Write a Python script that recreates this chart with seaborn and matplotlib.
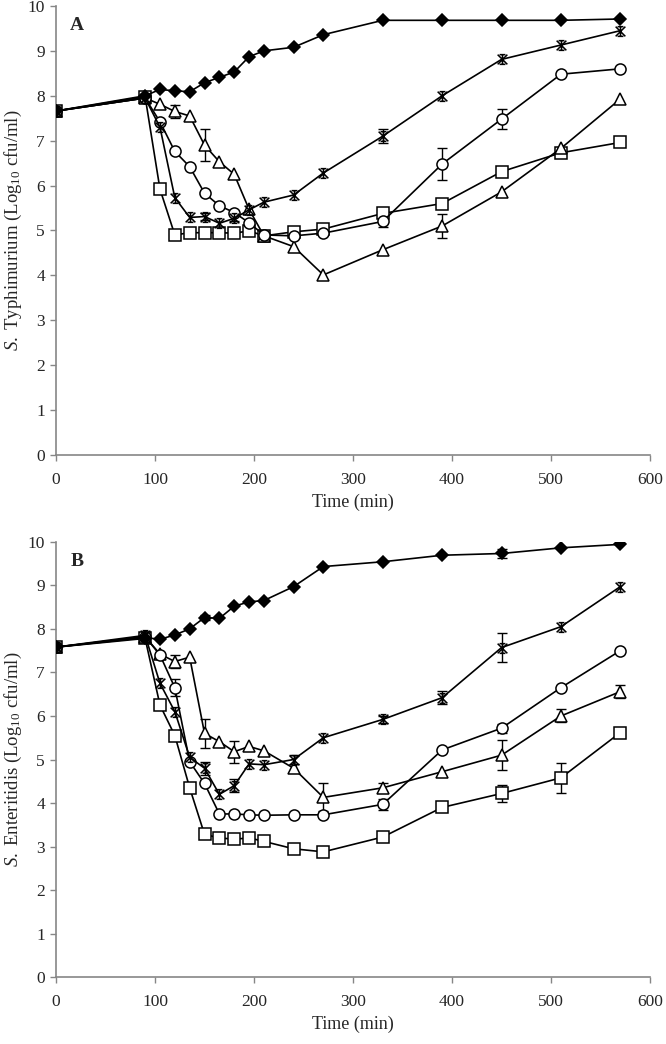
import numpy as np
import pandas as pd
import matplotlib
matplotlib.use("Agg")
import matplotlib.pyplot as plt
from matplotlib.path import Path
import seaborn as sns

# time points (min)
time = [0, 90, 105, 120, 135, 150, 165, 180, 195, 210, 240, 270, 330, 390, 450, 510, 570]

# panel A - S. Typhimurium
a_diamond = [7.66, 8.00, 8.14, 8.11, 8.09, 8.29, 8.41, 8.53, 8.87, 9.00, 9.08, 9.36, 9.68, 9.68, 9.68, 9.68, 9.71]
a_star = [7.66, 7.95, 7.30, 5.73, 5.29, 5.31, 5.16, 5.27, 5.46, 5.63, 5.79, 6.28, 7.10, 8.00, 8.81, 9.13, 9.45]
a_circle = [7.66, 7.95, 7.42, 6.76, 6.42, 5.83, 5.55, 5.40, 5.17, 4.90, 4.88, 4.94, 5.20, 6.48, 7.48, 8.48, 8.60]
a_triangle = [7.66, 7.95, 7.81, 7.65, 7.55, 6.90, 6.53, 6.25, 5.47, 4.88, 4.64, 4.01, 4.57, 5.10, 5.86, 6.83, 7.93]
a_square = [7.66, 7.98, 5.92, 4.90, 4.95, 4.95, 4.95, 4.94, 4.99, 4.88, 4.97, 5.03, 5.38, 5.60, 6.31, 6.73, 6.96]

a_diamond_err = [0, 0, 0, 0, 0, 0, 0, 0, 0, 0, 0, 0, 0, 0, 0, 0, 0]
a_star_err = [0, 0, 0, 0, 0, 0.07, 0, 0.07, 0, 0, 0, 0, 0.15, 0, 0, 0, 0]
a_circle_err = [0, 0, 0, 0, 0, 0, 0, 0, 0, 0, 0, 0, 0.12, 0.36, 0.22, 0, 0]
a_triangle_err = [0, 0, 0, 0.15, 0, 0.35, 0, 0, 0, 0, 0, 0, 0, 0.27, 0, 0, 0]
a_square_err = [0, 0, 0, 0, 0, 0, 0, 0, 0, 0, 0, 0, 0, 0, 0, 0, 0]

# panel B - S. Enteritidis
b_diamond = [7.58, 7.80, 7.76, 7.86, 8.00, 8.26, 8.24, 8.52, 8.62, 8.65, 8.97, 9.43, 9.54, 9.69, 9.73, 9.86, 9.94]
b_star = [7.58, 7.85, 6.75, 6.10, 5.05, 4.80, 4.20, 4.40, 4.90, 4.88, 5.00, 5.50, 5.92, 6.42, 7.57, 8.05, 8.97]
b_circle = [7.58, 7.82, 7.40, 6.65, 4.95, 4.45, 3.75, 3.75, 3.73, 3.72, 3.73, 3.73, 3.97, 5.22, 5.72, 6.65, 7.50]
b_triangle = [7.58, 7.82, 7.42, 7.25, 7.35, 5.60, 5.41, 5.18, 5.30, 5.20, 4.80, 4.13, 4.35, 4.72, 5.10, 6.00, 6.56]
b_square = [7.58, 7.78, 6.25, 5.55, 4.35, 3.28, 3.20, 3.17, 3.20, 3.12, 2.95, 2.88, 3.22, 3.90, 4.22, 4.58, 5.62]

b_diamond_err = [0, 0, 0, 0, 0, 0.05, 0, 0, 0, 0, 0, 0, 0, 0, 0.1, 0, 0]
b_star_err = [0, 0, 0, 0, 0, 0.15, 0, 0.15, 0, 0, 0.1, 0, 0.08, 0.15, 0.34, 0, 0]
b_circle_err = [0, 0, 0, 0.2, 0, 0, 0, 0, 0, 0, 0, 0, 0.12, 0, 0.1, 0, 0]
b_triangle_err = [0, 0, 0, 0.15, 0, 0.33, 0, 0.25, 0, 0, 0, 0.32, 0.1, 0, 0.35, 0.15, 0.15]
b_square_err = [0, 0, 0, 0, 0, 0, 0, 0, 0, 0, 0, 0, 0, 0, 0.2, 0.35, 0]

# excel-like star marker: X + vertical bar + caps
star_path = Path(
    [(-1, -1), (1, 1), (-1, 1), (1, -1), (0, -1), (0, 1),
     (-0.6, 1), (0.6, 1), (-0.6, -1), (0.6, -1)],
    [Path.MOVETO, Path.LINETO, Path.MOVETO, Path.LINETO, Path.MOVETO, Path.LINETO,
     Path.MOVETO, Path.LINETO, Path.MOVETO, Path.LINETO]
)

sns.set_style("white")
plt.rcParams["font.family"] = ["Liberation Serif", "DejaVu Serif"]
plt.rcParams["mathtext.fontset"] = "custom"
plt.rcParams["mathtext.rm"] = "Liberation Serif"
plt.rcParams["mathtext.it"] = "Liberation Serif:italic"

fig = plt.figure(figsize=(6.66, 10.44), dpi=100)
ax_a = fig.add_axes([0.0841, 0.5642, 0.892, 0.4301])
ax_b = fig.add_axes([0.0841, 0.0639, 0.892, 0.4172])

gray = "#868686"

panels = [
    (ax_a, "A", r"$\it{S.}$ Typhimurium (Log$_{10}$ cfu/ml)",
     [(a_square, a_square_err, "s", "white", 8),
      (a_triangle, a_triangle_err, "^", "white", 8.5),
      (a_circle, a_circle_err, "o", "white", 8),
      (a_star, a_star_err, star_path, "none", 7),
      (a_diamond, a_diamond_err, "D", "black", 6.5)]),
    (ax_b, "B", r"$\it{S.}$ Enteritidis (Log$_{10}$ cfu/ml)",
     [(b_square, b_square_err, "s", "white", 8),
      (b_triangle, b_triangle_err, "^", "white", 8.5),
      (b_circle, b_circle_err, "o", "white", 8),
      (b_star, b_star_err, star_path, "none", 7),
      (b_diamond, b_diamond_err, "D", "black", 6.5)]),
]

for ax, tag, ylab, series in panels:
    for vals, errs, mk, fc, ms in series:
        df = pd.DataFrame({"time": time, "value": vals, "err": errs})
        e = df[df["err"] > 0]
        ax.errorbar(e["time"], e["value"], yerr=e["err"], fmt="none",
                    ecolor="black", elinewidth=1.0, capsize=3.5, capthick=1.0, zorder=2)
        sns.lineplot(data=df, x="time", y="value", ax=ax, color="black",
                     linewidth=1.2, marker=mk, markersize=ms,
                     markerfacecolor=fc, markeredgecolor="black",
                     markeredgewidth=1.1, zorder=3)

    ax.set_xlim(0, 600)
    ax.set_ylim(0, 10)
    ax.set_xticks(range(0, 601, 100))
    ax.set_yticks(range(0, 11))
    ax.set_xlabel("Time (min)", fontsize=13, labelpad=4)
    ax.set_ylabel(ylab, fontsize=13.5)
    ax.yaxis.set_label_coords(-0.054, 0.5)
    ax.tick_params(axis="both", labelsize=12.5, direction="out", length=4,
                   width=1, color=gray, left=True, bottom=True)
    ax.tick_params(axis="x", pad=8)
    ax.tick_params(axis="y", pad=4)
    for side in ["top", "right"]:
        ax.spines[side].set_visible(False)
    for side in ["left", "bottom"]:
        ax.spines[side].set_color(gray)
        ax.spines[side].set_linewidth(1.2)
    ax.text(0.024, 0.975, tag, transform=ax.transAxes, fontsize=14,
            fontweight="bold", va="top", ha="left")

fig.savefig("out.png", dpi=100)
